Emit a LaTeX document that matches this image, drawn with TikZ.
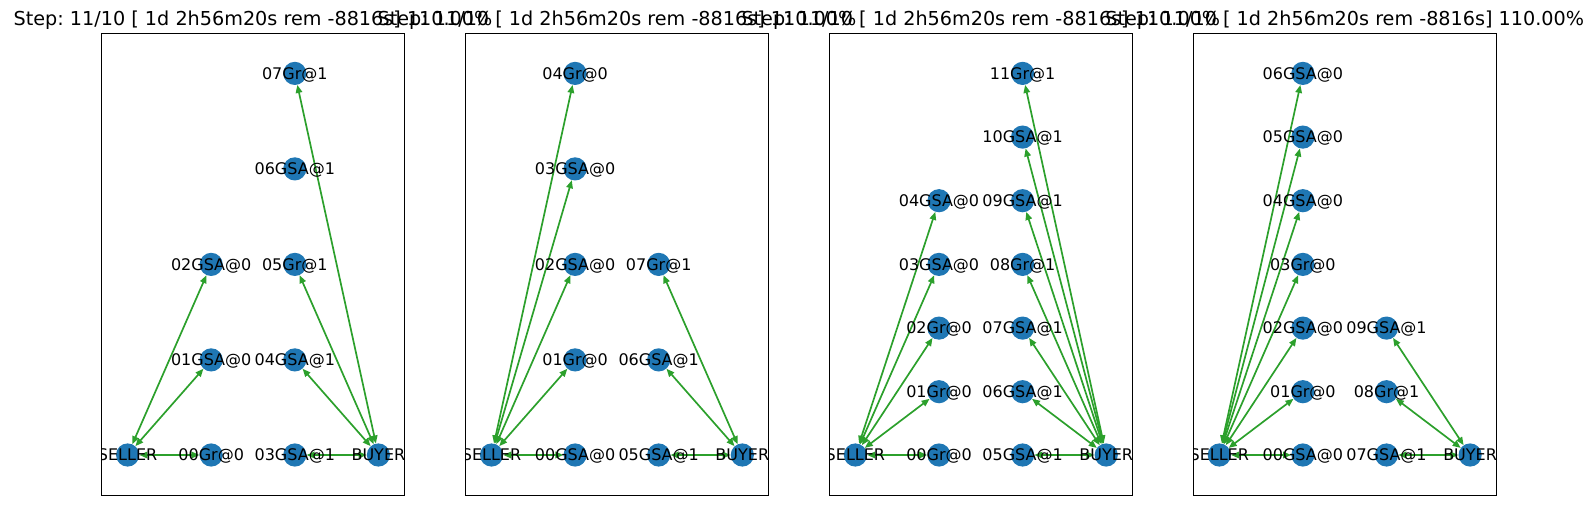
\documentclass[tikz,border=0pt]{standalone}
\usepackage{fontspec}
\setmainfont{DejaVu Sans}
\usetikzlibrary{arrows.meta}
\definecolor{nodeblue}{HTML}{1F77B4}
\definecolor{edgegreen}{HTML}{2CA02C}
\newcommand\mkv[3]{\node[vtx] (#1) at (#2,#3) {};}
\newcommand\mkl[2]{\node[lbl] (#1-t) at (#1) {#2};}
\frenchspacing
\begin{document}
\begin{tikzpicture}[x=1pt,y=-1pt,
 vtx/.style={circle,fill=nodeblue,minimum size=23.2pt,inner sep=0pt,draw=none},
 lbl/.style={inner sep=0pt,font=\fontsize{16}{16}\selectfont,text height=11.66pt,text depth=0pt},
 link/.style={draw=edgegreen,line width=1.7pt,{Triangle[length=8pt,width=6.5pt]}-{Triangle[length=8pt,width=6.5pt]}},
 frame/.style={draw=black,line width=1.1pt},
 ttl/.style={anchor=base,inner sep=0pt,font=\fontsize{19.2}{20}\selectfont}]
\useasboundingbox (0,0) rectangle (1596,505);

% ---------- panel 1 ----------
\begin{scope}
\clip (101.7,33.3) rectangle (404.5,495.7);
\mkv{a-s}{127.6}{455.0}
\mkv{a-00}{211.2}{455.0}
\mkv{a-01}{211.2}{359.9}
\mkv{a-02}{211.2}{264.4}
\mkv{a-03}{294.8}{455.0}
\mkv{a-04}{294.8}{359.9}
\mkv{a-05}{294.8}{264.4}
\mkv{a-06}{294.8}{168.9}
\mkv{a-07}{294.8}{73.4}
\mkv{a-b}{378.4}{455.0}
\foreach \i in {00,01,02} \draw[link] (a-s) -- (a-\i);
\foreach \i in {03,04,05,07} \draw[link] (a-b) -- (a-\i);
\mkl{a-s}{SELLER}
\mkl{a-00}{00Gr@0}
\mkl{a-01}{01GSA@0}
\mkl{a-02}{02GSA@0}
\mkl{a-03}{03GSA@1}
\mkl{a-04}{04GSA@1}
\mkl{a-05}{05Gr@1}
\mkl{a-06}{06GSA@1}
\mkl{a-07}{07Gr@1}
\mkl{a-b}{BUYER}
\end{scope}
\draw[frame] (101.7,33.3) rectangle (404.5,495.7);

% ---------- panel 2 ----------
\begin{scope}
\clip (465.6,33.3) rectangle (768.4,495.7);
\mkv{b-s}{491.5}{455.0}
\mkv{b-00}{575.1}{455.0}
\mkv{b-01}{575.1}{359.9}
\mkv{b-02}{575.1}{264.4}
\mkv{b-03}{575.1}{168.9}
\mkv{b-04}{575.1}{73.4}
\mkv{b-05}{658.7}{455.0}
\mkv{b-06}{658.7}{359.9}
\mkv{b-07}{658.7}{264.4}
\mkv{b-b}{742.3}{455.0}
\foreach \i in {00,01,02,03,04} \draw[link] (b-s) -- (b-\i);
\foreach \i in {05,06,07} \draw[link] (b-b) -- (b-\i);
\mkl{b-s}{SELLER}
\mkl{b-00}{00GSA@0}
\mkl{b-01}{01Gr@0}
\mkl{b-02}{02GSA@0}
\mkl{b-03}{03GSA@0}
\mkl{b-04}{04Gr@0}
\mkl{b-05}{05GSA@1}
\mkl{b-06}{06GSA@1}
\mkl{b-07}{07Gr@1}
\mkl{b-b}{BUYER}
\end{scope}
\draw[frame] (465.6,33.3) rectangle (768.4,495.7);

% ---------- panel 3 ----------
\begin{scope}
\clip (829.5,33.3) rectangle (1132.3,495.7);
\mkv{c-s}{855.4}{455.0}
\mkv{c-00}{939.0}{455.0}
\mkv{c-01}{939.0}{391.7}
\mkv{c-02}{939.0}{328.1}
\mkv{c-03}{939.0}{264.4}
\mkv{c-04}{939.0}{200.7}
\mkv{c-05}{1022.6}{455.0}
\mkv{c-06}{1022.6}{391.7}
\mkv{c-07}{1022.6}{328.1}
\mkv{c-08}{1022.6}{264.4}
\mkv{c-09}{1022.6}{200.7}
\mkv{c-10}{1022.6}{137.1}
\mkv{c-11}{1022.6}{73.4}
\mkv{c-b}{1106.2}{455.0}
\foreach \i in {00,01,02,03,04} \draw[link] (c-s) -- (c-\i);
\foreach \i in {05,06,07,08,09,10,11} \draw[link] (c-b) -- (c-\i);
\mkl{c-s}{SELLER}
\mkl{c-00}{00Gr@0}
\mkl{c-01}{01Gr@0}
\mkl{c-02}{02Gr@0}
\mkl{c-03}{03GSA@0}
\mkl{c-04}{04GSA@0}
\mkl{c-05}{05GSA@1}
\mkl{c-06}{06GSA@1}
\mkl{c-07}{07GSA@1}
\mkl{c-08}{08Gr@1}
\mkl{c-09}{09GSA@1}
\mkl{c-10}{10GSA@1}
\mkl{c-11}{11Gr@1}
\mkl{c-b}{BUYER}
\end{scope}
\draw[frame] (829.5,33.3) rectangle (1132.3,495.7);

% ---------- panel 4 ----------
\begin{scope}
\clip (1193.4,33.3) rectangle (1496.2,495.7);
\mkv{d-s}{1219.3}{455.0}
\mkv{d-00}{1302.9}{455.0}
\mkv{d-01}{1302.9}{391.7}
\mkv{d-02}{1302.9}{328.1}
\mkv{d-03}{1302.9}{264.4}
\mkv{d-04}{1302.9}{200.7}
\mkv{d-05}{1302.9}{137.1}
\mkv{d-06}{1302.9}{73.4}
\mkv{d-07}{1386.5}{455.0}
\mkv{d-08}{1386.5}{391.7}
\mkv{d-09}{1386.5}{328.1}
\mkv{d-b}{1470.1}{455.0}
\foreach \i in {00,01,02,03,04,05,06} \draw[link] (d-s) -- (d-\i);
\foreach \i in {07,08,09} \draw[link] (d-b) -- (d-\i);
\mkl{d-s}{SELLER}
\mkl{d-00}{00GSA@0}
\mkl{d-01}{01Gr@0}
\mkl{d-02}{02GSA@0}
\mkl{d-03}{03Gr@0}
\mkl{d-04}{04GSA@0}
\mkl{d-05}{05GSA@0}
\mkl{d-06}{06GSA@0}
\mkl{d-07}{07GSA@1}
\mkl{d-08}{08Gr@1}
\mkl{d-09}{09GSA@1}
\mkl{d-b}{BUYER}
\end{scope}
\draw[frame] (1193.4,33.3) rectangle (1496.2,495.7);

% ---------- titles ----------
\node[ttl] (t1) at (253.1,25.3) {Step: 11/10 [ 1d 2h56m20s rem -8816s] 110.00\%};
\node[ttl] (t2) at (617.0,25.3) {Step: 11/10 [ 1d 2h56m20s rem -8816s] 110.00\%};
\node[ttl] (t3) at (980.9,25.3) {Step: 11/10 [ 1d 2h56m20s rem -8816s] 110.00\%};
\node[ttl] (t4) at (1344.8,25.3) {Step: 11/10 [ 1d 2h56m20s rem -8816s] 110.00\%};
\end{tikzpicture}
\end{document}
